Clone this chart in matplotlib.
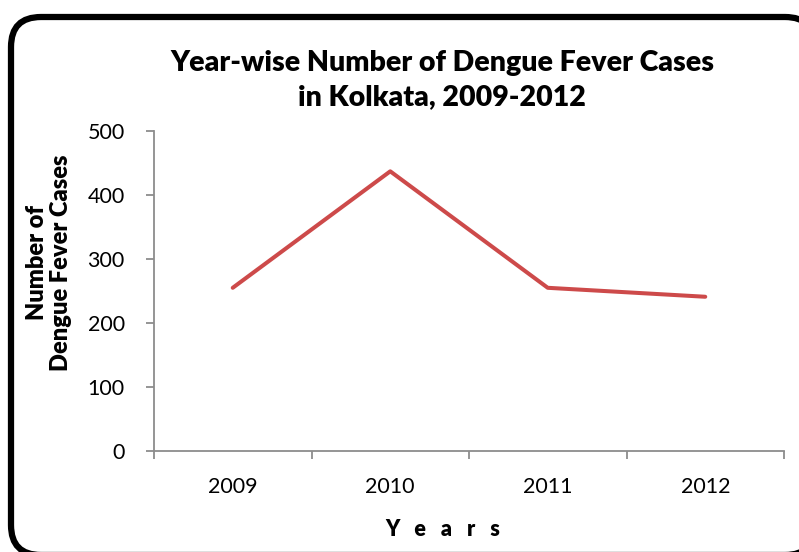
"""
Year-wise number of dengue fever cases in Kolkata, 2009-2012.
"""
import numpy as np
import matplotlib.pyplot as plt
from matplotlib.patches import FancyBboxPatch

years = ['2009', '2010', '2011', '2012']
cases = [255, 437, 255, 241]
y_ticks = [0, 100, 200, 300, 400, 500]

plt.rcParams['font.family'] = ['Lato', 'DejaVu Sans']

W, H = 799, 552
fig = plt.figure(figsize=(W / 100, H / 100), dpi=100)

# background layer in pixel units for the rounded frame
bg = fig.add_axes([0, 0, 1, 1])
bg.set_xlim(0, W)
bg.set_ylim(0, H)
bg.axis('off')
# filled (white) so the renderer does not clip the curved path at the edge
frame = FancyBboxPatch((11, H - 555), 804, 538,
                       boxstyle='round,pad=0,rounding_size=30',
                       fc='white', ec='black', lw=4.5, clip_on=False)
bg.add_patch(frame)

ax = fig.add_axes([154 / W, 1 - 451 / H, 630 / W, 320 / H])
ax.patch.set_alpha(0)

x = np.arange(len(years)) + 0.5
ax.plot(x, cases, color='#CD4A4A', lw=2.9, solid_capstyle='round')

ax.set_xlim(0, len(years))
ax.set_ylim(0, 500)
ax.set_yticks(y_ticks)
ax.set_yticklabels([str(t) for t in y_ticks], fontsize=15.5)

# category boundaries carry the tick marks, centres carry the labels
ax.set_xticks(np.arange(len(years) + 1))
ax.set_xticklabels([])
ax.set_xticks(x, minor=True)
ax.set_xticklabels(years, minor=True, fontsize=15.5)
ax.tick_params(axis='x', which='minor', length=0, pad=19)
ax.tick_params(axis='x', which='major', length=6, width=1.3, color='#8c8c8c')
ax.tick_params(axis='y', length=6, width=1.3, color='#8c8c8c', pad=15)

for s in ['top', 'right']:
    ax.spines[s].set_visible(False)
for s in ['left', 'bottom']:
    ax.spines[s].set_color('#8c8c8c')
    ax.spines[s].set_linewidth(1.3)

fig.text(442 / W, 1 - 80 / H, 'Year-wise Number of Dengue Fever Cases\nin Kolkata, 2009-2012',
         ha='center', va='center', fontsize=20.5, fontweight='heavy', linespacing=1.4)
fig.text(49 / W, 1 - 263 / H, 'Number of\nDengue Fever Cases', rotation=90,
         ha='center', va='center', fontsize=17, fontweight='heavy', linespacing=1.15)
fig.text(443 / W, 1 - 530 / H, 'Y   e   a   r   s', ha='center', va='center',
         fontsize=15.5, fontweight='heavy')

fig.savefig('out.png', dpi=100)
